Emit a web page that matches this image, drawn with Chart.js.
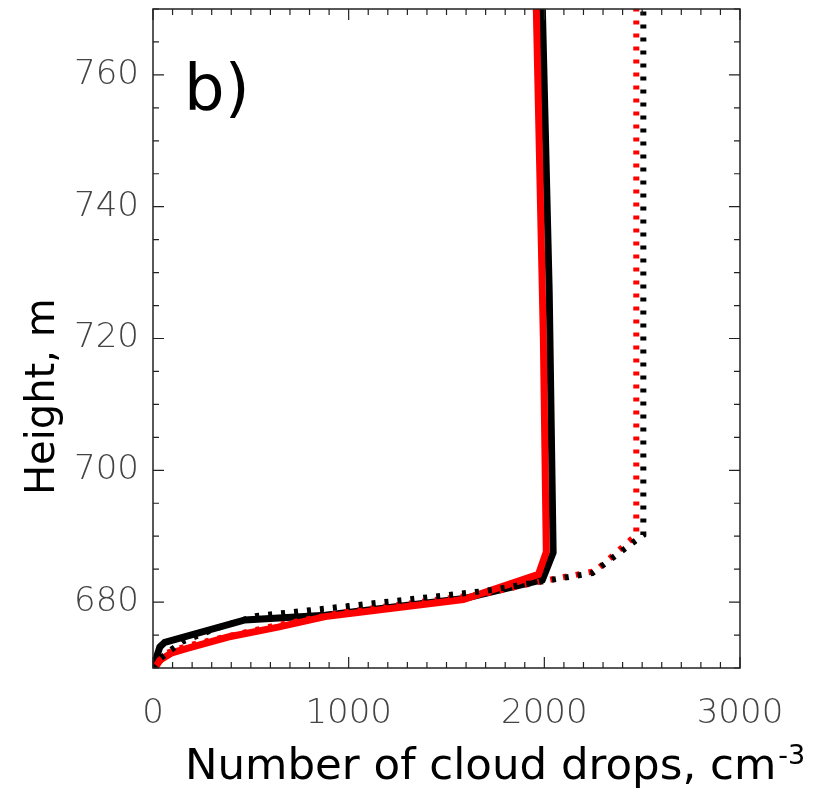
<!DOCTYPE html>
<html>
<head>
<meta charset="utf-8">
<script src="https://cdn.jsdelivr.net/npm/chart.js@4/dist/chart.umd.min.js"></script>
<style>
  html, body { margin: 0; padding: 0; background: #fff; }
  #wrap { width: 817px; height: 788px; }
</style>
</head>
<body>
<div id="wrap"><canvas id="cloudChart" width="817" height="788"></canvas></div>
<script>
// axis ticks
const xTicks = [0, 1000, 2000, 3000];
const yTicks = [680, 700, 720, 740, 760];

// black solid
const blackSolidN = [0, 35, 60, 470, 880, 1600, 1990, 2045, 2025, 1990];
const blackSolidH = [670, 673.2, 673.9, 677.3, 678.0, 680.6, 683.4, 687.5, 727, 770];

// red solid
const redSolidN = [10, 36, 97, 179, 384, 639, 880, 1586, 1970, 2010, 1995, 1959];
const redSolidH = [670, 671.2, 672.3, 673.0, 674.7, 676.2, 677.8, 680.4, 684.2, 687.6, 720, 770];

// black dotted
const blackDotN = [0, 40, 90, 150, 330, 530, 1000, 1700, 1960, 2245, 2506, 2506];
const blackDotH = [670, 671.5, 672.7, 674, 676.1, 677.9, 679.4, 681.7, 683.0, 684.4, 690.2, 770];

// red dotted
const redDotN = [15, 60, 180, 380, 650, 1000, 1700, 1960, 2260, 2470, 2470];
const redDotH = [670, 672.2, 673.4, 674.8, 676.6, 678.6, 681.3, 683.0, 684.7, 690.2, 770];

function pts(n, h) {
  return n.map((v, i) => ({ x: v, y: h[i] }));
}

const data = {
  datasets: [
    {
      label: "black dotted",
      data: pts(blackDotN, blackDotH),
      borderColor: "#000",
      borderWidth: 6,
      borderDash: [4, 9],
      order: 1,
    },
    {
      label: "red dotted",
      data: pts(redDotN, redDotH),
      borderColor: "#ff0000",
      borderWidth: 6,
      borderDash: [4, 9],
      borderDashOffset: 6,
      order: 2,
    },
    {
      label: "red solid",
      data: pts(redSolidN, redSolidH),
      borderColor: "#ff0000",
      borderWidth: 7,
      order: 3,
    },
    {
      label: "black solid",
      data: pts(blackSolidN, blackSolidH),
      borderColor: "#000",
      borderWidth: 7,
      order: 4,
    },
  ],
};

const tickFont = { family: "'DejaVu Sans ExtraLight', 'DejaVu Sans'", size: 34, weight: "200" };

// frame, inward ticks and the titles
const framePlugin = {
  id: "frame",
  afterDraw(chart) {
    const ctx = chart.ctx;
    const a = chart.chartArea;
    const xs = chart.scales.x;
    const ys = chart.scales.y;
    ctx.save();
    ctx.strokeStyle = "#222";
    ctx.lineWidth = 1.5;
    ctx.strokeRect(a.left, a.top, a.right - a.left, a.bottom - a.top);

    ctx.lineWidth = 1.2;
    ctx.beginPath();
    for (let v = 0; v <= 3000; v += 100) {
      const px = xs.getPixelForValue(v);
      const len = v % 1000 === 0 ? 11 : 6;
      ctx.moveTo(px, a.bottom);
      ctx.lineTo(px, a.bottom - len);
      ctx.moveTo(px, a.top);
      ctx.lineTo(px, a.top + len);
    }
    for (let v = 670; v <= 770; v += 5) {
      const py = ys.getPixelForValue(v);
      const len = v % 20 === 0 ? 11 : 6;
      ctx.moveTo(a.left, py);
      ctx.lineTo(a.left + len, py);
      ctx.moveTo(a.right, py);
      ctx.lineTo(a.right - len, py);
    }
    ctx.stroke();

    ctx.fillStyle = "#000";
    ctx.textBaseline = "alphabetic";
    ctx.textAlign = "left";

    // panel letter
    ctx.font = "64px 'DejaVu Sans'";
    ctx.fillText("b)", 184, 110);

    // x title with superscript
    ctx.font = "43.5px 'DejaVu Sans'";
    const main = "Number of cloud drops, cm";
    ctx.fillText(main, 185, 779);
    const w = ctx.measureText(main).width;
    ctx.font = "27px 'DejaVu Sans'";
    ctx.fillText("-3", 185 + w + 2, 764);

    // y title
    ctx.font = "40px 'DejaVu Sans'";
    ctx.translate(54, 495);
    ctx.rotate(-Math.PI / 2);
    ctx.fillText("Height, m", 0, 0);
    ctx.restore();
  },
};

const config = {
  type: "scatter",
  data: data,
  options: {
    responsive: false,
    animation: false,
    showLine: true,
    layout: {
      padding: { left: 0, right: 77, top: 9, bottom: 0 },
    },
    elements: {
      point: { radius: 0, hoverRadius: 0 },
      line: { tension: 0, borderCapStyle: "butt", borderJoinStyle: "miter", fill: false },
    },
    scales: {
      x: {
        type: "linear",
        min: 0,
        max: 3000,
        afterBuildTicks: (s) => { s.ticks = xTicks.map((v) => ({ value: v })); },
        afterFit: (s) => { s.height = 120; s.paddingLeft = 0; s.paddingRight = 0; },
        grid: { display: false, drawTicks: false },
        border: { display: false },
        ticks: {
          padding: 26,
          color: "#444",
          font: tickFont,
          maxRotation: 0,
          callback: (v) => String(v),
        },
      },
      y: {
        type: "linear",
        min: 670,
        max: 770,
        afterBuildTicks: (s) => { s.ticks = yTicks.map((v) => ({ value: v })); },
        afterFit: (s) => { s.width = 153; s.paddingTop = 0; s.paddingBottom = 0; },
        grid: { display: false, drawTicks: false },
        border: { display: false },
        ticks: {
          padding: 14,
          color: "#444",
          font: tickFont,
          callback: (v) => String(v),
        },
      },
    },
    plugins: {
      legend: { display: false },
      tooltip: { enabled: false },
      title: { display: false },
    },
  },
  plugins: [framePlugin],
};

const ctx = document.getElementById("cloudChart").getContext("2d");
const cloudChart = new Chart(ctx, config);
</script>
</body>
</html>
